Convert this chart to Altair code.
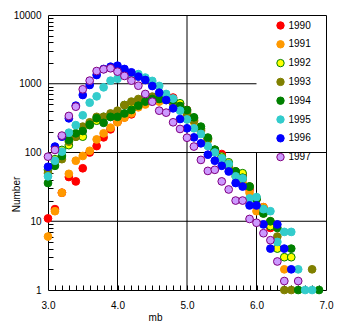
import altair as alt
import pandas as pd

# x categories (mb bins)
mb = [3.0, 3.1, 3.2, 3.3, 3.4, 3.5, 3.6, 3.7, 3.8, 3.9,
      4.0, 4.1, 4.2, 4.3, 4.4, 4.5, 4.6, 4.7, 4.8, 4.9,
      5.0, 5.1, 5.2, 5.3, 5.4, 5.5, 5.6, 5.7, 5.8, 5.9,
      6.0, 6.1, 6.2, 6.3, 6.4, 6.5, 6.6, 6.7, 6.8, 6.9]

N = None
n1990 = [11, 15, 26, 44, 38, 59, 100, 124, 166, 217,
         278, 325, 359, 507, 562, 610, 600, 630, 630, 507,
         415, 297, 212, 161, 109, 95, 66, 53, 47, 29,
         21, 16, 8, N, N, N, N, N, N, N]
n1991 = [6, 14, 26, 49, 76, 89, 106, 155, 190, 230,
         275, 321, 371, 454, 500, 580, 550, 610, 580, 465,
         350, 280, 200, 152, 103, 87, 62, 45, 36, 26,
         14, 16, 9, N, 2, N, N, N, N, N]
n1992 = [56, 80, 109, 128, 170, 170, 250, 290, 330, 330,
         370, 490, 520, 580, 650, 610, 610, 610, 580, 520,
         390, 315, 225, 160, 110, 87, 72, 53, 50, 32,
         22, 15, 8.5, 4, 3, 3, N, N, N, N]
n1993 = [50, 75, 80, 144, 170, 238, 275, 330, 330, 370,
         406, 490, 550, 600, 580, 650, 630, 580, 520, 465,
         370, 290, 212, 155, 103, 80, 62, 50, 41, 32,
         21, 13, 10, 6, 1, 1, N, N, 2, N]
n1994 = [36, 64, 89, 152, 190, 205, 255, 315, 270, 330,
         330, 370, 415, 480, 550, 600, 600, 600, 580, 475,
         415, 325, 238, 165, 109, 82, 68, 53, 43, 32,
         21, 13, 10, 8, N, 4, 1, N, N, 1]
n1995 = [45, 76, 103, 194, 250, 348, 531, 656, 887, 1109,
         1186, 1380, 1350, 1380, 1230, 1100, 930, 710, 610, 406,
         303, 225, 186, 124, 100, 82, 68, 45, 42, 21.5,
         22.5, 15, 14, 5, 7, 7, 2, 1, 1, N]
n1996 = [62, 122, 170, 314, 480, 686, 960, 1340, 1640, 1770,
         1830, 1640, 1466, 1270, 1135, 927, 742, 580, 439, 307,
         225, 166, 136, 93, 76, 64, 53, 36, 32, 17,
         17, 9, 4, 9, 4, 2, N, N, N, N]
n1997 = [87, 109, 176, 340, 464, 830, 1110, 1530, 1620, 1680,
         1500, 1300, 1110, 937, 710, 548, 406, 380, 275, 220,
         164, 122, 78, 54, 56, 38, 29, 20, 20, 10.8,
         9.5, 6.7, 5.3, 2.6, 1.35, N, 1.35, N, N, N]

years = ["1990", "1991", "1992", "1993", "1994", "1995", "1996", "1997"]
series = [n1990, n1991, n1992, n1993, n1994, n1995, n1996, n1997]
fills = ["#FF0000", "#FF9900", "#FFFF00", "#808000", "#008000", "#33CCCC", "#0000FF", "#CC99FF"]
strokes = ["#FF0000", "#FF9900", "#008000", "#808000", "#008000", "#33CCCC", "#0000FF", "#800080"]

# axis tick values
x_ticks = [3.0, 4.0, 5.0, 6.0, 7.0]
y_ticks = [1, 10, 100, 1000, 10000]
x_minor = [3.1, 3.2, 3.3, 3.4, 3.5, 3.6, 3.7, 3.8, 3.9, 4.0,
           4.1, 4.2, 4.3, 4.4, 4.5, 4.6, 4.7, 4.8, 4.9, 5.0,
           5.1, 5.2, 5.3, 5.4, 5.5, 5.6, 5.7, 5.8, 5.9, 6.0,
           6.1, 6.2, 6.3, 6.4, 6.5, 6.6, 6.7, 6.8, 6.9]
y_minor = [2, 3, 4, 5, 6, 7, 8, 9,
           20, 30, 40, 50, 60, 70, 80, 90,
           200, 300, 400, 500, 600, 700, 800, 900,
           2000, 3000, 4000, 5000, 6000, 7000, 8000, 9000]

# grid lines (the legend box occupies the upper right cell)
grid_x_full = [4.0, 5.0]
grid_y_full = [10, 100]
grid_partial = pd.DataFrame({
    "x": [3.0, 6.0], "x2": [6.0, 6.0],
    "y": [1000, 1], "y2": [1000, 100],
})

rows = []
for yr, vals in zip(years, series):
    for m, v in zip(mb, vals):
        if v is not None:
            rows.append({"mb": m, "Number": v, "year": yr})
df = pd.DataFrame(rows)

W, H = 278, 275
FONT = "Liberation Sans"

xs = alt.Scale(domain=[3.0, 7.0], nice=False, zero=False)
ys = alt.Scale(type="log", domain=[1, 10000], nice=False)

vgrid = alt.Chart(pd.DataFrame({"gx": grid_x_full})).mark_rule(
    color="black", strokeWidth=1
).encode(x=alt.X("gx:Q", scale=xs, axis=None))

hgrid = alt.Chart(pd.DataFrame({"gy": grid_y_full})).mark_rule(
    color="black", strokeWidth=1
).encode(y=alt.Y("gy:Q", scale=ys, axis=None))

pgrid = alt.Chart(grid_partial).mark_rule(color="black", strokeWidth=1).encode(
    x=alt.X("x:Q", scale=xs, axis=None),
    x2="x2:Q",
    y=alt.Y("y:Q", scale=ys, axis=None),
    y2="y2:Q",
)

# inner minor ticks (axes moved onto the opposite edge so ticks point inward)
ticks = alt.Chart(df).mark_point(opacity=0).encode(
    x=alt.X("mb:Q", scale=xs, axis=alt.Axis(
        orient="top", offset=-H, values=x_minor, labels=False, domain=False,
        grid=False, ticks=True, tickSize=5, tickColor="black", title=None)),
    y=alt.Y("Number:Q", scale=ys, axis=alt.Axis(
        orient="right", offset=-W, values=y_minor, labels=False, domain=False,
        grid=False, ticks=True, tickSize=5, tickColor="black", title=None)),
)

leg = alt.Legend(
    orient="none", legendX=227.5, legendY=5.5, title=None,
    symbolType="circle", symbolSize=55, symbolStrokeWidth=1,
    labelFont=FONT, labelFontSize=10, labelColor="black",
    labelOffset=3, rowPadding=6.8, padding=0,
)

points = alt.Chart(df).mark_point(
    filled=True, shape="circle", size=60, strokeWidth=1, opacity=1
).encode(
    x=alt.X("mb:Q", scale=xs, axis=alt.Axis(
        orient="bottom", values=x_ticks, format=".1f", grid=False, ticks=False,
        domain=False, labelFlush=False, labelPadding=10,
        labelFont=FONT, labelFontSize=10, labelColor="black",
        title="mb", titleFont=FONT, titleFontSize=10, titleFontWeight="normal",
        titleColor="black", titleX=107, titleY=30, titleBaseline="alphabetic")),
    y=alt.Y("Number:Q", scale=ys, axis=alt.Axis(
        orient="left", values=y_ticks, format="d", grid=False, ticks=False,
        domain=False, labelFlush=False, labelPadding=7,
        labelFont=FONT, labelFontSize=10, labelColor="black",
        title="Number", titleFont=FONT, titleFontSize=10, titleFontWeight="normal",
        titleColor="black", titleX=-29, titleY=179, titleAngle=-90,
        titleBaseline="alphabetic", titleAlign="center")),
    fill=alt.Fill("year:N", scale=alt.Scale(domain=years, range=fills), legend=leg),
    stroke=alt.Stroke("year:N", scale=alt.Scale(domain=years, range=strokes), legend=leg),
    order=alt.Order("year:N"),
)

chart = alt.layer(vgrid, hgrid, pgrid, ticks, points).resolve_axis(
    x="independent", y="independent"
).properties(
    width=W, height=H,
    background="white",
    autosize=alt.AutoSizeParams(type="none"),
    padding={"left": 48, "top": 15, "right": 17, "bottom": 38},
).configure_view(
    stroke="black", strokeWidth=1
)

chart.save("out.html", embed_options={"renderer": "svg", "actions": False})
